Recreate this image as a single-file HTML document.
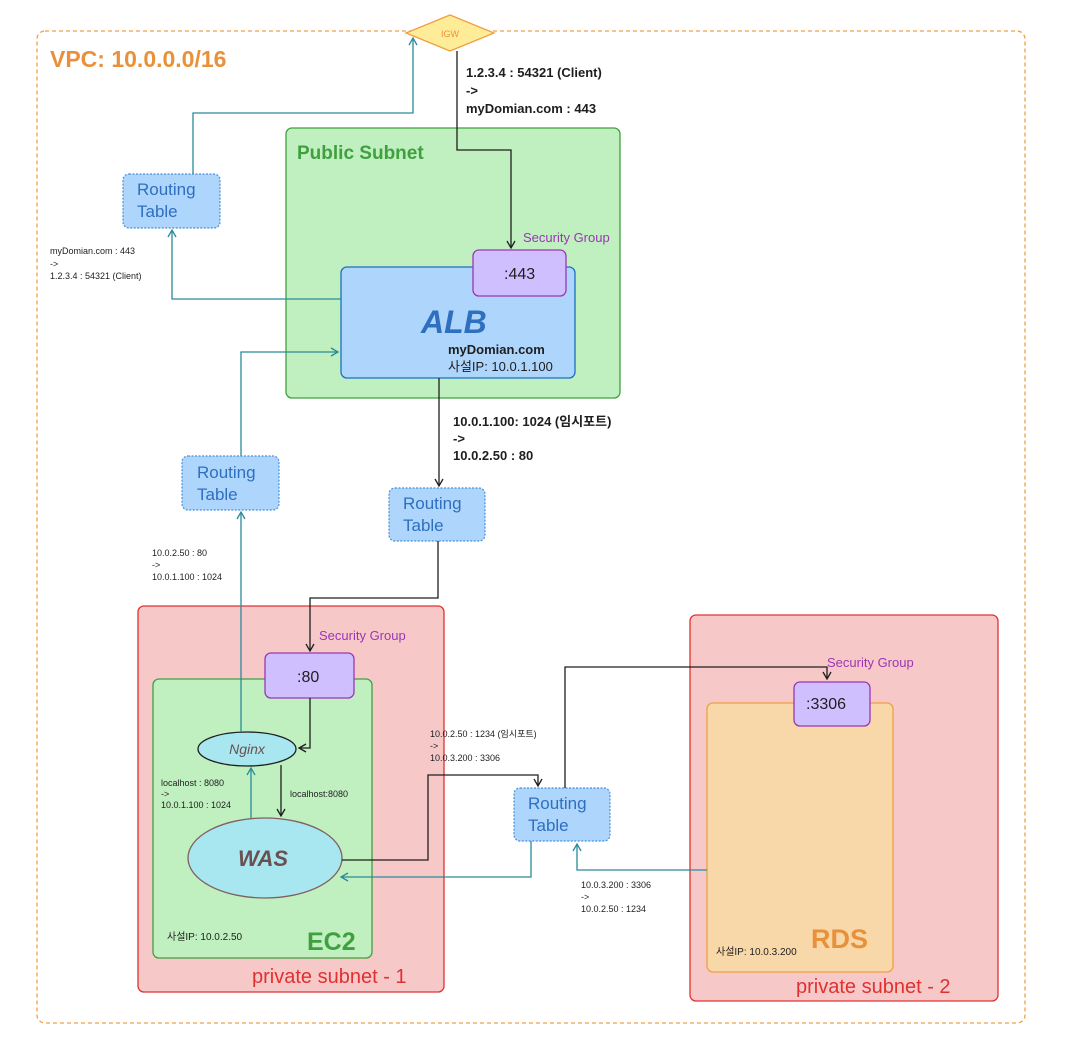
<!DOCTYPE html>
<html><head><meta charset="utf-8"><style>
html,body{margin:0;padding:0;background:#fff;width:1066px;height:1044px;overflow:hidden}
text{font-family:"Liberation Sans","Noto Sans CJK KR",sans-serif}
</style></head><body>
<svg width="1066" height="1044" viewBox="0 0 1066 1044" xmlns="http://www.w3.org/2000/svg">
<defs>
<marker id="ak" markerWidth="10" markerHeight="10" refX="8" refY="5" orient="auto" markerUnits="userSpaceOnUse"><path d="M1,1 L8,5 L1,9" fill="none" stroke="#1e1e1e" stroke-width="1.3"/></marker>
<marker id="at" markerWidth="10" markerHeight="10" refX="8" refY="5" orient="auto" markerUnits="userSpaceOnUse"><path d="M1,1 L8,5 L1,9" fill="none" stroke="#2a8a9a" stroke-width="1.3"/></marker>
</defs>
<rect x="37" y="31" width="988" height="992" rx="8" fill="none" stroke="#f0a040" stroke-width="1.3" stroke-dasharray="4,3"/>
<text x="50" y="67" font-size="23" font-weight="bold" fill="#e8913a">VPC: 10.0.0.0/16</text>
<rect x="286" y="128" width="334" height="270" rx="6" fill="#c0efc0" stroke="#40a040" stroke-width="1.3"/>
<text x="297" y="159" font-size="19" font-weight="600" fill="#40a040">Public Subnet</text>
<rect x="341" y="267" width="234" height="111" rx="6" fill="#aed5fb" stroke="#1971c2" stroke-width="1.3"/>
<text x="421" y="333" font-size="32" font-weight="bold" font-style="italic" fill="#2f6fc0">ALB</text>
<text x="448" y="354" font-size="13" font-weight="600" fill="#1e1e1e">myDomian.com</text>
<text x="448" y="371" font-size="13" fill="#1e1e1e">사설IP: 10.0.1.100</text>
<rect x="473" y="250" width="93" height="46" rx="6" fill="#d0bfff" stroke="#9c36b5" stroke-width="1.3"/>
<text x="504" y="279" font-size="16" fill="#1e1e1e">:443</text>
<text x="523" y="242" font-size="13" fill="#9c36b5">Security Group</text>
<polygon points="406,33 450,15 494,33 450,51" fill="#ffec99" stroke="#f0a040" stroke-width="1.3"/>
<text x="450" y="37" font-size="9" fill="#e8913a" text-anchor="middle">IGW</text>
<rect x="138" y="606" width="306" height="386" rx="6" fill="#f7c8c8" stroke="#e03131" stroke-width="1.3"/>
<text x="252" y="983" font-size="20" fill="#e03131">private subnet - 1</text>
<rect x="153" y="679" width="219" height="279" rx="6" fill="#c0efc0" stroke="#40a040" stroke-width="1.3"/>
<text x="307" y="950" font-size="25" font-weight="bold" fill="#40a040">EC2</text>
<text x="167" y="940" font-size="10" fill="#1e1e1e">사설IP: 10.0.2.50</text>
<rect x="265" y="653" width="89" height="45" rx="6" fill="#d0bfff" stroke="#9c36b5" stroke-width="1.3"/>
<text x="297" y="682" font-size="16" fill="#1e1e1e">:80</text>
<text x="319" y="640" font-size="13" fill="#9c36b5">Security Group</text>
<ellipse cx="247" cy="749" rx="49" ry="17" fill="#a8e6f0" stroke="#1e1e1e" stroke-width="1.3"/>
<text x="247" y="754" font-size="14" font-style="italic" fill="#6a5050" text-anchor="middle">Nginx</text>
<ellipse cx="265" cy="858" rx="77" ry="40" fill="#a8e6f0" stroke="#806060" stroke-width="1.3"/>
<text x="263" y="866" font-size="22" font-weight="bold" font-style="italic" fill="#6a5050" text-anchor="middle">WAS</text>
<rect x="690" y="615" width="308" height="386" rx="6" fill="#f7c8c8" stroke="#e03131" stroke-width="1.3"/>
<text x="796" y="993" font-size="20" fill="#e03131">private subnet - 2</text>
<rect x="707" y="703" width="186" height="269" rx="6" fill="#f8d8a8" stroke="#f0a040" stroke-width="1.3"/>
<text x="811" y="948" font-size="27" font-weight="bold" fill="#e8913a">RDS</text>
<text x="716" y="955" font-size="10" fill="#1e1e1e">사설IP: 10.0.3.200</text>
<rect x="794" y="682" width="76" height="44" rx="6" fill="#d0bfff" stroke="#9c36b5" stroke-width="1.3"/>
<text x="806" y="709" font-size="16" fill="#1e1e1e">:3306</text>
<text x="827" y="667" font-size="13" fill="#9c36b5">Security Group</text>
<g fill="#aed5fb" stroke="#4a90d9" stroke-width="1.2" stroke-dasharray="2,1.5">
<rect x="123" y="174" width="97" height="54" rx="6"/>
<rect x="182" y="456" width="97" height="54" rx="6"/>
<rect x="389" y="488" width="96" height="53" rx="6"/>
<rect x="514" y="788" width="96" height="53" rx="6"/>
</g>
<g font-size="17" fill="#2f6fc0">
<text x="137" y="195">Routing</text><text x="137" y="217">Table</text>
<text x="197" y="478">Routing</text><text x="197" y="500">Table</text>
<text x="403" y="509">Routing</text><text x="403" y="531">Table</text>
<text x="528" y="809">Routing</text><text x="528" y="831">Table</text>
</g>
<g fill="none" stroke-width="1.3">
<path d="M457,51 V150 H511 V248" stroke="#1e1e1e" marker-end="url(#ak)"/>
<path d="M193,174 V113 H413 V38" stroke="#2a8a9a" marker-end="url(#at)"/>
<path d="M341,299 H172 V230" stroke="#2a8a9a" marker-end="url(#at)"/>
<path d="M241,456 V352 H338" stroke="#2a8a9a" marker-end="url(#at)"/>
<path d="M241,732 V512" stroke="#2a8a9a" marker-end="url(#at)"/>
<path d="M439,378 V486" stroke="#1e1e1e" marker-end="url(#ak)"/>
<path d="M438,541 V598 H310 V651" stroke="#1e1e1e" marker-end="url(#ak)"/>
<path d="M310,698 V748 H299" stroke="#1e1e1e" marker-end="url(#ak)"/>
<path d="M281,765 V816" stroke="#1e1e1e" marker-end="url(#ak)"/>
<path d="M251,818 V768" stroke="#2a8a9a" marker-end="url(#at)"/>
<path d="M342,860 H428 V775 H538 V786" stroke="#1e1e1e" marker-end="url(#ak)"/>
<path d="M531,841 V877 H341" stroke="#2a8a9a" marker-end="url(#at)"/>
<path d="M565,788 V667 H827 V679" stroke="#1e1e1e" marker-end="url(#ak)"/>
<path d="M707,870 H577 V844" stroke="#2a8a9a" marker-end="url(#at)"/>
</g>
<g font-size="13" font-weight="600" fill="#1e1e1e">
<text x="466" y="77">1.2.3.4 : 54321 (Client)</text><text x="466" y="95">-&gt;</text><text x="466" y="113">myDomian.com : 443</text>
<text x="453" y="426">10.0.1.100: 1024 (임시포트)</text><text x="453" y="443">-&gt;</text><text x="453" y="460">10.0.2.50 : 80</text>
</g>
<g font-size="9" fill="#1e1e1e">
<text x="50" y="254">myDomian.com : 443</text><text x="50" y="267">-&gt;</text><text x="50" y="279">1.2.3.4 : 54321 (Client)</text>
<text x="152" y="556">10.0.2.50 : 80</text><text x="152" y="568">-&gt;</text><text x="152" y="580">10.0.1.100 : 1024</text>
<text x="161" y="786">localhost : 8080</text><text x="161" y="797">-&gt;</text><text x="161" y="808">10.0.1.100 : 1024</text>
<text x="290" y="797">localhost:8080</text>
<text x="430" y="737">10.0.2.50 : 1234 (임시포트)</text><text x="430" y="749">-&gt;</text><text x="430" y="761">10.0.3.200 : 3306</text>
<text x="581" y="888">10.0.3.200 : 3306</text><text x="581" y="900">-&gt;</text><text x="581" y="912">10.0.2.50 : 1234</text>
</g>
</svg>
</body></html>
